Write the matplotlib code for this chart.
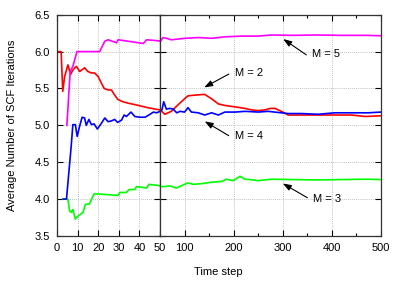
import matplotlib
matplotlib.use("Agg")
import matplotlib.pyplot as plt
from matplotlib.ticker import MultipleLocator, FixedLocator

plt.rcParams['font.family'] = ['Liberation Sans', 'DejaVu Sans']

# ---- data ----
t_m2 = [0, 2, 2.8, 3.7, 5.3, 6.6, 7.7, 9.4, 11, 13.4, 15, 16.7, 18.3, 20, 21.6, 22.9, 24.8, 26.4, 28, 29.6,
        32, 34.6, 38, 41, 44, 47.6, 50, 60, 73, 87, 100, 107, 121, 141, 155, 169, 182, 203, 223, 236, 250,
        264, 275, 284, 297, 311, 338, 372, 406, 440, 468, 500]
y_m2 = [6.0, 6.0, 5.46, 5.66, 5.82, 5.69, 5.75, 5.80, 5.73, 5.78, 5.73, 5.71, 5.71, 5.66, 5.57, 5.50, 5.48,
        5.48, 5.41, 5.35, 5.32, 5.30, 5.28, 5.26, 5.24, 5.22, 5.21, 5.15, 5.19, 5.28, 5.36, 5.40, 5.41, 5.42,
        5.36, 5.29, 5.27, 5.25, 5.23, 5.21, 5.20, 5.21, 5.23, 5.23, 5.19, 5.14, 5.14, 5.14, 5.14, 5.14, 5.12, 5.13]

t_m3 = [2.8, 5.3, 6.1, 6.9, 7.7, 8.9, 10.2, 12.6, 13.8, 15.5, 16, 18, 20, 29.6, 30.5, 33.7, 35, 37.8, 38.6,
        43.5, 44.6, 47.6, 53, 60, 70, 83, 93, 107, 118, 135, 155, 176, 185, 199, 213, 223, 240, 250, 277,
        320, 370, 420, 470, 500]
y_m3 = [4.0, 4.0, 3.84, 3.82, 3.86, 3.73, 3.77, 3.82, 3.93, 3.93, 3.95, 4.07, 4.07, 4.05, 4.09, 4.09, 4.13,
        4.13, 4.17, 4.15, 4.20, 4.19, 4.17, 4.17, 4.18, 4.15, 4.18, 4.22, 4.20, 4.21, 4.23, 4.24, 4.27, 4.25,
        4.31, 4.27, 4.26, 4.25, 4.27, 4.265, 4.26, 4.265, 4.27, 4.265]

t_m4 = [3, 4.6, 6.9, 7.7, 8.9, 9.8, 11, 12.2, 13.4, 14.2, 15.5, 16.7, 18, 19.6, 21.6, 23.2, 24.8, 26.4, 28,
        29.4, 31.3, 32.6, 33.7, 35.9, 37.8, 40.2, 42.7, 44.6, 46.8, 48.4, 50, 54, 57.5, 63, 70, 77, 84, 91,
        100, 107, 114, 128, 141, 155, 169, 182, 203, 223, 250, 270, 297, 311, 338, 372, 406, 440, 474, 500]
y_m4 = [4.0, 4.0, 4.72, 5.01, 5.01, 4.85, 4.99, 5.11, 5.10, 5.0, 5.08, 5.01, 5.02, 4.95, 5.03, 5.10, 5.05,
        5.06, 5.08, 5.04, 5.07, 5.14, 5.12, 5.18, 5.12, 5.11, 5.11, 5.14, 5.18, 5.17, 5.19, 5.21, 5.32, 5.22,
        5.23, 5.22, 5.17, 5.19, 5.18, 5.24, 5.18, 5.17, 5.14, 5.17, 5.14, 5.18, 5.18, 5.19, 5.18, 5.19, 5.17,
        5.16, 5.16, 5.15, 5.17, 5.17, 5.17, 5.18]

t_m5 = [4.8, 6.4, 7.7, 9.7, 20.7, 23.2, 24.8, 28.9, 29.7, 34.6, 41.9, 43.5, 47.6, 51, 56, 63, 73, 87, 100,
        128, 155, 182, 216, 250, 277, 320, 370, 420, 470, 500]
y_m5 = [5.0, 5.73, 5.80, 6.0, 6.0, 6.14, 6.16, 6.12, 6.16, 6.14, 6.11, 6.16, 6.15, 6.14, 6.19, 6.18, 6.16,
        6.17, 6.18, 6.19, 6.18, 6.20, 6.21, 6.21, 6.225, 6.22, 6.225, 6.22, 6.22, 6.215]

series = [(t_m2, y_m2, '#ff0000'), (t_m3, y_m3, '#00ff00'),
          (t_m4, y_m4, '#0000ff'), (t_m5, y_m5, '#ff00ff')]

left_xticks = [0, 10, 20, 30, 40, 50]
right_xticks = [100, 200, 300, 400, 500]
yticks = [3.5, 4.0, 4.5, 5.0, 5.5, 6.0, 6.5]

# ---- figure ----
fig = plt.figure(figsize=(3.99, 2.83), dpi=100)
axL = fig.add_axes([57/399, 1-236/283, 103/399, (236-14.7)/283])
axR = fig.add_axes([160/399, 1-236/283, 221/399, (236-14.7)/283], sharey=axL)

for ax in (axL, axR):
    for t, y, c in series:
        ax.plot(t, y, color=c, lw=1.2, clip_on=True)
    ax.set_ylim(3.5, 6.5)
    ax.yaxis.set_major_locator(FixedLocator(yticks))
    ax.grid(True, ls=(0, (1, 1.5)), color='#aaaaaa', lw=0.6)
    ax.tick_params(which='both', direction='in', top=True, right=True, labelsize=8, pad=5, width=0.8)
    ax.tick_params(which='major', length=4)
    ax.tick_params(which='minor', length=2)
    for s in ax.spines.values():
        s.set_linewidth(0.9)
        s.set_color('#333333')

axL.set_xlim(0, 50)
axL.set_xticks(left_xticks)
axL.set_yticklabels(['3.5', '4.0', '4.5', '5.0', '5.5', '6.0', '6.5'])

axR.set_xlim(50, 500)
axR.set_xticks(right_xticks)
axR.xaxis.set_minor_locator(MultipleLocator(50))
axR.tick_params(labelleft=False)
# label 50 is shared by the left axis; hide minor grid
axR.grid(False, which='minor')

# annotations
ak = dict(arrowstyle='-|>,head_length=0.5,head_width=0.18', color='black', lw=0.8, shrinkA=0, shrinkB=0)
axR.annotate('', xy=(301, 6.17), xytext=(348, 5.955), arrowprops=ak)
axR.text(389, 5.97, 'M = 5', fontsize=8, ha='center', va='center')
axR.annotate('', xy=(140, 5.514), xytext=(190, 5.695), arrowprops=ak)
axR.text(231, 5.708, 'M = 2', fontsize=8, ha='center', va='center')
axR.annotate('', xy=(141, 5.054), xytext=(190, 4.86), arrowprops=ak)
axR.text(231, 4.86, 'M = 4', fontsize=8, ha='center', va='center')
axR.annotate('', xy=(300, 4.212), xytext=(350, 4.019), arrowprops=ak)
axR.text(390, 3.996, 'M = 3', fontsize=8, ha='center', va='center')

fig.text(12/399, 1-125/283, 'Average Number of SCF Iterations', rotation=90, fontsize=8,
         ha='center', va='center')
fig.text(218/399, 1-272/283, 'Time step', fontsize=8, ha='center', va='center')

fig.savefig('out.png', dpi=100)
